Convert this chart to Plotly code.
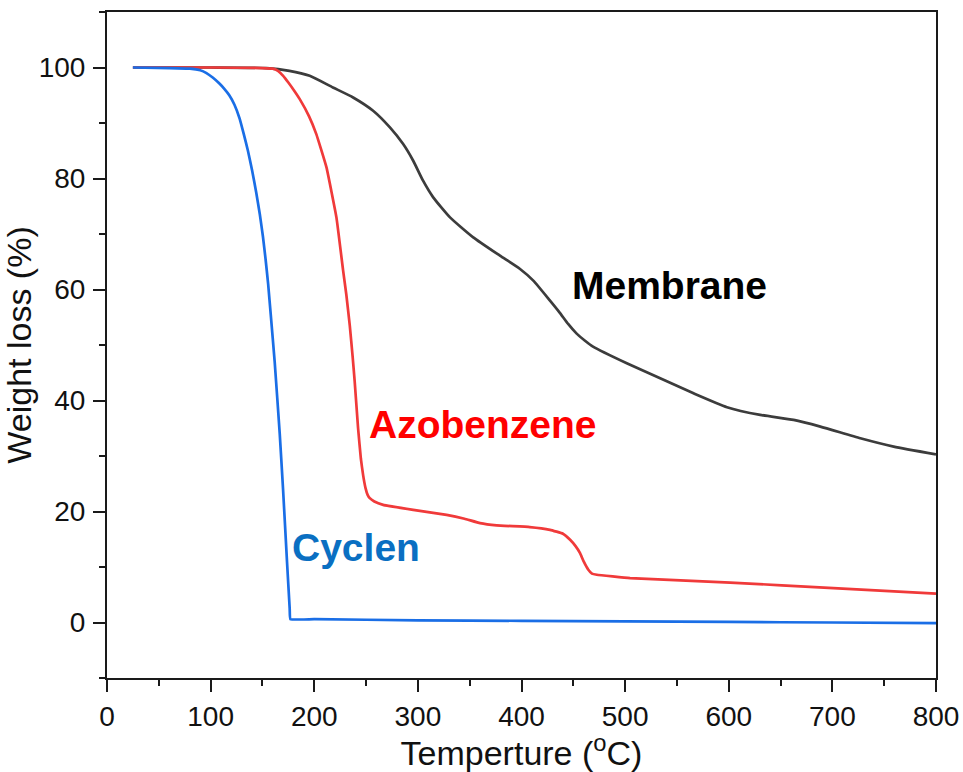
import plotly.graph_objects as go

# Thermogravimetric curves: temperature (°C) vs remaining weight (%)
cyclen_t = [25, 60, 80, 90, 96, 102, 108, 113, 118, 123, 128, 132, 136, 140, 144, 147.5, 150.5,
            153, 155.5, 158, 161.8, 166.7, 169.9, 173.7, 176.3, 177, 200, 300, 400, 500, 600, 700, 800]
cyclen_w = [100, 99.9, 99.8, 99.5, 99.0, 98.2, 97.2, 96.2, 95.0, 93.3, 90.8, 88.0, 85.0, 81.5, 77.5, 73.5, 69.5,
            65.5, 61, 55.5, 47, 34, 24, 11, 2.5, 0.6, 0.6, 0.4, 0.3, 0.2, 0.1, 0, -0.1]

azo_t = [25, 100, 150, 160, 165, 170, 175, 180, 186, 195, 202, 211.8, 221.4, 227.8, 231, 234.3, 237, 239,
         242.3, 245, 247.2, 249.5, 251.5, 253.6, 258, 266.5, 295.5, 327.7, 345, 360, 376, 408, 427.5, 440,
         446.9, 452, 456.5, 460, 464.5, 468, 472.7, 504.8, 601.4, 701, 800]
azo_w = [100, 100, 99.9, 99.8, 99.4, 98.5, 97.3, 96, 94.3, 91.2, 88, 82, 73, 63.5, 59, 53.5, 48, 43.5,
         35, 29.5, 26.5, 24.2, 23, 22.4, 21.8, 21.2, 20.3, 19.4, 18.7, 17.9, 17.5, 17.2, 16.7, 16,
         14.9, 13.8, 12.5, 11, 9.5, 8.8, 8.6, 8.0, 7.2, 6.2, 5.2]

mem_t = [25, 100, 154, 176, 195.6, 218, 237.5, 256.8, 273, 285.8, 295.5, 305, 314.8, 331, 353.4,
         379.2, 398.6, 411.4, 427.5, 437, 445, 453, 461, 469, 501.6, 533.8, 566, 598.3, 630.4,
         662.6, 688.4, 727, 759.2, 800]
mem_w = [100, 100, 99.9, 99.4, 98.5, 96.4, 94.6, 92.2, 89.2, 86.2, 83.2, 79.6, 76.6, 73, 69.4,
         66.1, 63.7, 61.6, 58, 55.8, 53.8, 52.1, 50.8, 49.7, 46.7, 44, 41.3, 38.8, 37.4,
         36.5, 35.3, 33.2, 31.7, 30.3]

# Curve labels: text, anchor position (data coords), colour
labels = [
    ("Membrane", 542.5, 60.7, "#000000"),
    ("Azobenzene", 363.3, 35.6, "#ff0000"),
    ("Cyclen", 240.6, 13.6, "#0a6fc2"),
]

FONT = "Arial, Liberation Sans, sans-serif"

fig = go.Figure()
fig.add_trace(go.Scatter(x=mem_t, y=mem_w, mode="lines",
                         line=dict(color="#3c3c3c", width=2.7, shape="spline", smoothing=0.5)))
fig.add_trace(go.Scatter(x=azo_t, y=azo_w, mode="lines",
                         line=dict(color="#f03a3a", width=2.7, shape="spline", smoothing=0.3)))
fig.add_trace(go.Scatter(x=cyclen_t, y=cyclen_w, mode="lines",
                         line=dict(color="#1a6ee6", width=2.7, shape="spline", smoothing=0.3)))

for text, lx, ly, col in labels:
    fig.add_annotation(x=lx, y=ly, xref="x", yref="y", text=f"<b>{text}</b>",
                       showarrow=False, xanchor="center", yanchor="middle",
                       font=dict(family=FONT, size=39, color=col))

axis_common = dict(
    showline=True, linecolor="#1a1a1a", linewidth=2, mirror=True,
    ticks="outside", ticklen=12, tickwidth=2, tickcolor="#1a1a1a",
    showgrid=False, zeroline=False, automargin=False,
    tickfont=dict(family=FONT, size=28, color="#111111"),
)

fig.update_xaxes(
    range=[0, 800], tick0=0, dtick=100,
    minor=dict(ticks="outside", ticklen=6, tickwidth=2, tickcolor="#1a1a1a", dtick=50, showgrid=False),
    title=dict(text="Temperture (<sup>o</sup>C)", font=dict(family=FONT, size=34, color="#111111"), standoff=6),
    **axis_common,
)
fig.update_yaxes(
    range=[-10, 110], tick0=0, dtick=20,
    minor=dict(ticks="outside", ticklen=6, tickwidth=2, tickcolor="#1a1a1a", dtick=10, showgrid=False),
    title=dict(text="Weight loss (%)", font=dict(family=FONT, size=34, color="#111111"), standoff=4),
    ticklabelstandoff=2,
    **axis_common,
)

fig.update_layout(
    width=963, height=772,
    margin=dict(l=107, r=27, t=12, b=94),
    paper_bgcolor="white", plot_bgcolor="white",
    showlegend=False,
)

fig.write_html("out.html")
